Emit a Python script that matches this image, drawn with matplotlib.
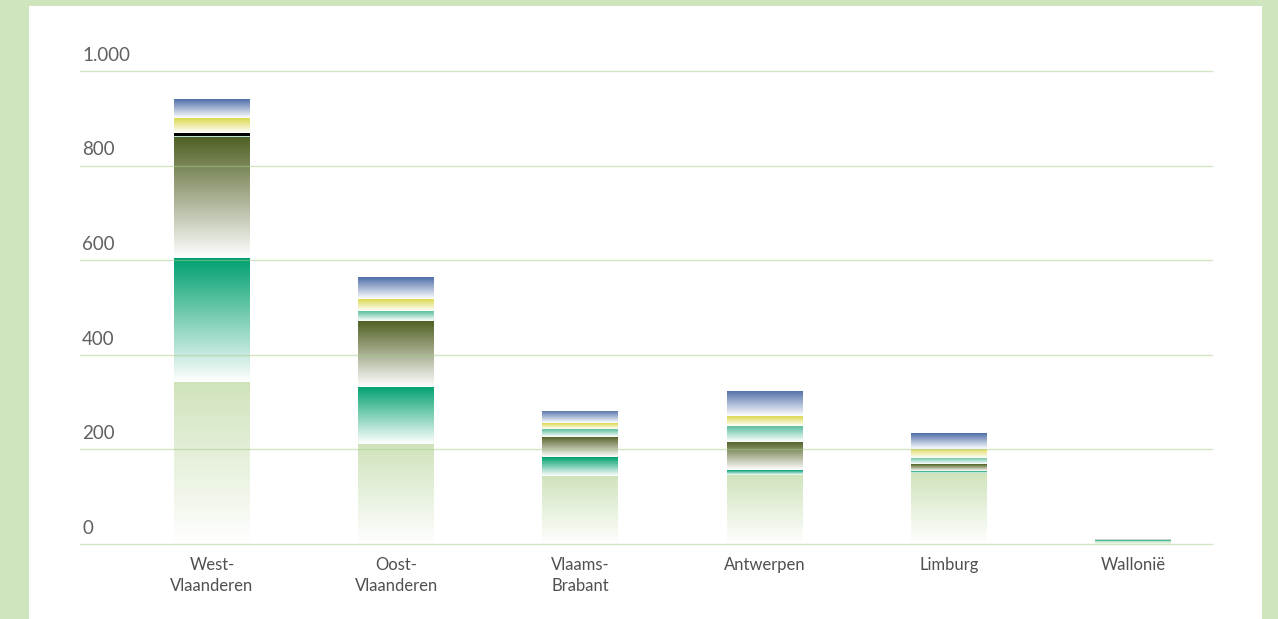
import numpy as np
import matplotlib
matplotlib.use("Agg")
import matplotlib.pyplot as plt
from matplotlib.patches import Rectangle
from matplotlib.colors import to_rgb

# ---- data ----
categories = ['West-\nVlaanderen', 'Oost-\nVlaanderen', 'Vlaams-\nBrabant', 'Antwerpen', 'Limburg', 'Wallonië']
lightgreen = [343, 211, 144, 147, 151, 4]
green = [262, 121, 40, 9, 4, 4]
olive = [256, 140, 43, 60, 14, 3]
teal = [2, 21, 16, 33, 13, 0]
black = [7, 0, 0, 0, 0, 0]
yellow = [31, 25, 12, 21, 20, 0]
blue = [40, 46, 27, 54, 33, 0]
yticks = [0, 200, 400, 600, 800, 1000]
ytick_labels = ['0', '200', '400', '600', '800', '1.000']

series = [lightgreen, green, olive, teal, black, yellow, blue]
colors = ['#cfe3bb', '#00a070', '#4f5f22', '#5dbf9f', '#000000', '#dcd850', '#4f6ea8']
gradient = [True, True, True, True, False, True, True]

W, H = 1278, 619
fig = plt.figure(figsize=(W / 100, H / 100), dpi=100)
fig.patch.set_facecolor('#cfe5bd')
fig.add_artist(Rectangle((29 / W, 0), (1262 - 29) / W, (H - 6) / H,
                         transform=fig.transFigure, facecolor='white', edgecolor='none', zorder=0))

left_px, right_px = 80, 1212
y0_px, y1000_px = 544, 71.3
ax = fig.add_axes([left_px / W, (H - y0_px) / H, (right_px - left_px) / W, (y0_px - y1000_px) / H])
ax.set_facecolor('none')
for s in ax.spines.values():
    s.set_visible(False)
ax.set_xticks([])
ax.set_yticks([])

x = np.arange(len(categories))
unit = 184.2
bar_w = 76 / unit
N = 256
bottom = np.zeros(len(categories))
for vals, col, grad in zip(series, colors, gradient):
    vals = np.array(vals, dtype=float)
    bars = ax.bar(x, vals, bar_w, bottom=bottom, color='none', edgecolor='none', zorder=2)
    c = np.array(to_rgb(col))
    for xi, b, v, patch in zip(x, bottom, vals, bars):
        if v <= 0:
            continue
        if grad:
            t = np.linspace(1, 0, N)[:, None]
            img = (1 - t) * np.array([1, 1, 1]) + t * c
            img = np.repeat(img[:, None, :], 2, axis=1)
            im = ax.imshow(img, extent=[xi - bar_w / 2, xi + bar_w / 2, b, b + v],
                           aspect='auto', interpolation='bilinear', zorder=2)
            im.set_clip_path(patch)
        else:
            patch.set_facecolor(col)
    bottom = bottom + vals

ax.set_xlim((left_px - 212) / unit, (right_px - 212) / unit)
ax.set_ylim(0, 1000)

for yt, lab in zip(yticks, ytick_labels):
    ax.axhline(yt, color='#a8cc8c', alpha=0.5, lw=1.0, zorder=5, snap=True, clip_on=False)
    ax.annotate(lab, xy=(0, yt), xycoords=ax.get_yaxis_transform(),
                xytext=(1.5, 7.5), textcoords='offset points',
                ha='left', va='baseline', fontsize=13.5, color='#606060',
                family='Lato')

for xi, lab in zip(x, categories):
    ax.annotate(lab, xy=(xi, 0), xycoords='data', xytext=(0, -9.5), textcoords='offset points',
                ha='center', va='top', fontsize=12, color='#505050', family='Lato',
                linespacing=1.4, annotation_clip=False)

fig.savefig('out.png', dpi=100, facecolor=fig.get_facecolor())
